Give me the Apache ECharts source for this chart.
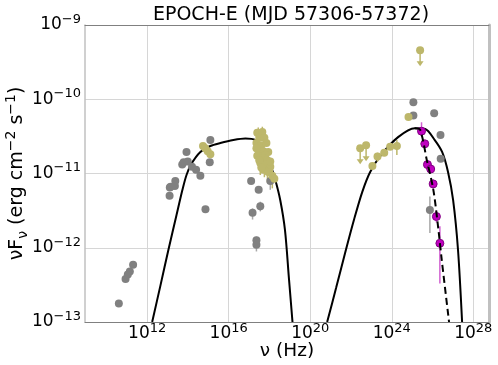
<!DOCTYPE html>
<html>
<head>
<meta charset="utf-8">
<script src="https://cdn.jsdelivr.net/npm/echarts@6/dist/echarts.min.js"></script>
<style>
  html, body { margin: 0; padding: 0; background: #fff; }
  #main { width: 498px; height: 365px; }
</style>
</head>
<body>
<div id="main"></div>
<script>
// all values are log10(nu / Hz), log10(nuFnu / erg cm-2 s-1)
const xTicks = [12, 16, 20, 24, 28]
const yTicks = [-13, -12, -11, -10, -9]

// archival (grey)
const greyPts = [
  [10.61, -12.75], [10.94, -12.42], [11.05, -12.36], [11.15, -12.32], [11.31, -12.23],
  [13.10, -11.30], [13.11, -11.19], [13.15, -11.18], [13.36, -11.17], [13.38, -11.10],
  [13.72, -10.88], [13.79, -10.85], [13.93, -10.71], [13.99, -10.84], [14.20, -10.91],
  [14.40, -10.95], [14.61, -11.03], [14.86, -11.48], [15.07, -10.85], [15.10, -10.55],
  [17.10, -11.10], [17.47, -11.22], [17.55, -11.44], [17.17, -11.53], [17.36, -11.90],
  [17.36, -11.96], [18.04, -11.10],
  [25.06, -10.04], [25.06, -10.22], [26.08, -10.19], [26.39, -10.48], [26.40, -10.80],
  [25.87, -11.49]
]
const greyErr = [
  [17.17, -11.47, -11.62], [17.55, -11.38, -11.51], [17.36, -11.85, -12.05],
  [18.04, -11.04, -11.22], [25.87, -11.31, -11.80]
]

// epoch E (khaki)
const khakiPts = [
  [14.74, -10.63], [14.85, -10.66], [14.97, -10.70], [15.10, -10.74],
  [17.40, -10.45], [17.65, -10.44], [17.50, -10.52], [17.75, -10.52], [17.36, -10.59],
  [17.60, -10.62], [17.85, -10.59], [17.45, -10.68], [17.70, -10.70], [17.94, -10.71],
  [17.36, -10.66], [17.80, -10.75], [17.40, -10.76], [17.65, -10.79], [17.89, -10.82],
  [17.55, -10.86], [17.80, -10.88], [18.04, -10.91], [17.70, -10.95], [17.94, -10.98],
  [18.14, -11.03], [18.24, -11.07], [18.04, -10.84], [17.50, -10.82], [17.60, -10.92],
  [22.45, -10.66], [22.74, -10.62], [23.05, -10.90], [23.30, -10.77], [23.63, -10.72],
  [23.92, -10.64], [24.25, -10.63], [24.82, -10.24], [25.39, -9.34]
]
const khakiErr = [
  [17.45, -10.38, -10.55], [17.65, -10.37, -10.50], [17.55, -10.80, -11.02],
  [17.75, -10.85, -11.05], [17.90, -10.90, -11.12], [18.14, -10.95, -11.20],
  [24.25, -10.55, -10.75], [23.30, -10.72, -10.84]
]
const khakiUL = [[22.45, -10.66], [22.74, -10.62], [25.39, -9.34]]

// VHE (magenta)
const vhePts = [
  [25.46, -10.43], [25.62, -10.60], [25.75, -10.88], [25.91, -10.94],
  [26.03, -11.14], [26.19, -11.58], [26.36, -11.94]
]
const vheErr = [
  [25.46, -10.31, -10.50], [26.03, -11.08, -11.20], [26.19, -11.50, -11.66],
  [26.36, -11.71, -12.48]
]

// model curves
const syncModel = [
  [12.245, -13.0], [12.65, -12.51], [13.04, -12.03], [13.44, -11.56], [13.73, -11.22],
  [13.93, -11.02], [14.17, -10.87], [14.61, -10.71], [15.10, -10.63], [15.59, -10.59],
  [16.23, -10.55], [16.82, -10.53], [17.31, -10.55], [17.70, -10.66], [18.04, -10.88],
  [18.29, -11.09], [18.53, -11.36], [18.76, -11.76], [18.96, -12.43], [19.13, -13.0]
]
const icModel = [
  [20.83, -13.0], [21.27, -12.54], [21.71, -12.07], [22.16, -11.61], [22.55, -11.25],
  [22.94, -10.98], [23.48, -10.75], [24.31, -10.51], [25.13, -10.39], [25.64, -10.40],
  [26.11, -10.55], [26.47, -10.71], [26.76, -10.98], [27.01, -11.36], [27.25, -12.03],
  [27.45, -13.0]
]
const eblModel = [
  [25.13, -10.39], [25.39, -10.41], [25.72, -10.82], [26.04, -11.22], [26.29, -11.76],
  [26.45, -12.16], [26.81, -13.0]
]

const font = 'DejaVu Sans'
const grey = '#808080'
const khaki = '#bdb76b'
const magenta = '#c000c0'

const supRich = {
  base: { fontFamily: font, fontSize: 17, lineHeight: 24, color: '#000' },
  sup: { fontFamily: font, fontSize: 13, lineHeight: 13, verticalAlign: 'top', color: '#000' }
}

function errBars(data, color) {
  return {
    type: 'custom',
    data: data,
    z: 2,
    renderItem: (params, api) => {
      const lo = api.coord([api.value(0), api.value(1)])
      const hi = api.coord([api.value(0), api.value(2)])
      return {
        type: 'line',
        shape: { x1: lo[0], y1: lo[1], x2: hi[0], y2: hi[1] },
        style: { stroke: color, lineWidth: 1.5 }
      }
    }
  }
}

const myChart = echarts.init(document.getElementById('main'))
myChart.setOption({
  animation: false,
  title: {
    text: 'EPOCH-E (MJD 57306-57372)',
    left: 286,
    textAlign: 'center',
    top: 1,
    textStyle: { fontFamily: font, fontSize: 19, fontWeight: 'normal', color: '#000' }
  },
  grid: { left: 85, right: 9, top: 25, bottom: 43, outerBoundsMode: 'none', containLabel: false },
  xAxis: [{
    type: 'value',
    min: 8.95,
    max: 28.77,
    position: 'bottom',
    axisLine: { show: true, onZero: false, lineStyle: { color: '#808080', width: 1 } },
    axisTick: { show: false, customValues: xTicks },
    splitLine: { show: true, lineStyle: { color: '#d6d6d6', width: 1 } },
    axisLabel: {
      customValues: xTicks,
      margin: 0,
      formatter: v => '{base|10}{sup|' + v + '}',
      rich: supRich
    },
    name: 'ν (Hz)',
    nameLocation: 'middle',
    nameMoveOverlap: false,
    nameGap: 20,
    nameTextStyle: { fontFamily: font, fontSize: 18.5, color: '#000' }
  }, {
    type: 'value',
    min: 8.95,
    max: 28.77,
    position: 'top',
    axisLine: { show: true, onZero: false, lineStyle: { color: '#808080', width: 1 } },
    axisTick: { show: false },
    axisLabel: { show: false },
    splitLine: { show: false }
  }],
  yAxis: [{
    type: 'value',
    min: -13,
    max: -9,
    interval: 1,
    axisLine: { show: true, onZero: false, lineStyle: { color: '#c0c0c0', width: 1.5 } },
    axisTick: { show: false },
    splitLine: { show: true, lineStyle: { color: '#d6d6d6', width: 1 } },
    axisLabel: {
      margin: 4,
      formatter: v => '{base|10}{sup|−' + (-v) + '}',
      rich: supRich
    },
    name: '{base|νF}{sub|ν}{base| (erg cm}{sup|−2}{base| s}{sup|−1}{base|)}',
    nameLocation: 'middle',
    nameRotate: 90,
    nameMoveOverlap: false,
    nameGap: 55,
    nameTextStyle: {
      rich: {
        base: { fontFamily: font, fontSize: 19, lineHeight: 26, color: '#000' },
        sup: { fontFamily: font, fontSize: 14, lineHeight: 14, verticalAlign: 'top', color: '#000' },
        sub: { fontFamily: font, fontSize: 14, lineHeight: 14, verticalAlign: 'bottom', color: '#000' }
      }
    }
  }, {
    type: 'value',
    min: -13,
    max: -9,
    position: 'right',
    axisLine: { show: true, onZero: false, lineStyle: { color: '#c0c0c0', width: 3 } },
    axisTick: { show: false },
    axisLabel: { show: false },
    splitLine: { show: false }
  }],
  series: [
    {
      type: 'line', data: syncModel, smooth: 0.3, showSymbol: false, z: 1,
      lineStyle: { color: '#000', width: 2 }
    },
    {
      type: 'line', data: icModel, smooth: 0.3, showSymbol: false, z: 1,
      lineStyle: { color: '#000', width: 2 }
    },
    errBars(greyErr, '#a8a8a8'),
    {
      type: 'scatter', data: greyPts, symbolSize: 8, z: 3,
      itemStyle: { color: grey, opacity: 1 }
    },
    errBars(khakiErr, khaki),
    {
      type: 'custom',
      data: khakiUL,
      z: 3,
      renderItem: (params, api) => {
        const p = api.coord([api.value(0), api.value(1)])
        const len = 16
        return {
          type: 'group',
          children: [
            { type: 'line', shape: { x1: p[0], y1: p[1], x2: p[0], y2: p[1] + len - 4 }, style: { stroke: khaki, lineWidth: 1.5 } },
            { type: 'polygon', shape: { points: [[p[0] - 3.5, p[1] + len - 5], [p[0] + 3.5, p[1] + len - 5], [p[0], p[1] + len]] }, style: { fill: khaki } }
          ]
        }
      }
    },
    {
      type: 'scatter', data: khakiPts, symbolSize: 8, z: 4,
      itemStyle: { color: khaki, opacity: 1 }
    },
    errBars(vheErr, '#d060d0'),
    {
      type: 'scatter', data: vhePts, symbolSize: 8, z: 5,
      itemStyle: { color: magenta, borderColor: '#800080', borderWidth: 1, opacity: 1 }
    },
    {
      type: 'line', data: eblModel, smooth: 0.3, showSymbol: false, z: 6,
      lineStyle: { color: '#000', width: 2, type: [7, 4] }
    }
  ]
})
</script>
</body>
</html>
